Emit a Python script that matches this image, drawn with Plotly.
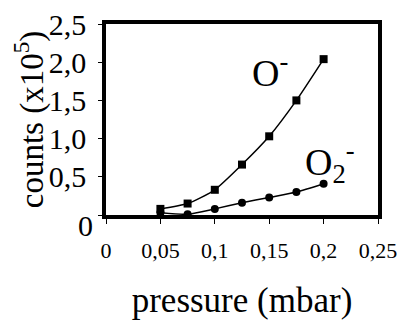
import plotly.graph_objects as go

pressure = [0.05, 0.075, 0.1, 0.125, 0.15, 0.175, 0.2]
o_minus = [0.08, 0.15, 0.33, 0.66, 1.03, 1.50, 2.04]
o2_minus = [0.03, 0.01, 0.08, 0.16, 0.23, 0.30, 0.41]

x_ticks = [0, 0.05, 0.1, 0.15, 0.2, 0.25]
x_ticktext = ["0", "0,05", "0,1", "0,15", "0,2", "0,25"]
y_ticks = [0, 0.5, 1.0, 1.5, 2.0, 2.5]
y_ticktext = ["", "0,5", "1,0", "1,5", "2,0", "2,5"]

FONT = "Liberation Serif"

fig = go.Figure()
fig.add_trace(go.Scatter(x=pressure, y=o_minus, mode="lines+markers",
                         line=dict(color="black", width=1.5, shape="spline", smoothing=0.6),
                         marker=dict(symbol="square", size=8, color="black"),
                         showlegend=False, cliponaxis=False))
fig.add_trace(go.Scatter(x=pressure, y=o2_minus, mode="lines+markers",
                         line=dict(color="black", width=1.5, shape="spline", smoothing=0.6),
                         marker=dict(symbol="circle", size=8, color="black"),
                         showlegend=False, cliponaxis=False))

fig.add_annotation(x=0.151, y=1.90, text="O<sup>-</sup>", showarrow=False,
                   font=dict(family=FONT, size=38, color="black"))
fig.add_annotation(x=0.206, y=0.69, text="O<sub>2</sub><sup>-</sup>", showarrow=False,
                   font=dict(family=FONT, size=38, color="black"))
# zero label of the y axis sits slightly below the axis in the original
fig.add_annotation(x=0, y=0, xref="paper", yref="y", text="0", showarrow=False,
                   xanchor="right", xshift=-11, yshift=-10,
                   font=dict(family=FONT, size=30, color="black"))

# the page body adds an 8px margin, so the figure is sized to fit the window
fig.update_layout(
    width=398, height=314,
    margin=dict(l=98, r=28, t=16, b=107),
    paper_bgcolor="white", plot_bgcolor="white",
    font=dict(family=FONT, color="black"),
    xaxis=dict(range=[0, 0.25], tickvals=x_ticks, ticktext=x_ticktext, tickangle=0,
               showgrid=False, zeroline=False, showline=True, linecolor="black", linewidth=3.5,
               mirror=True, ticks="outside", ticklen=5, tickwidth=1, tickcolor="black",
               tickfont=dict(family=FONT, size=22), ticklabelstandoff=8,
               ticklabeloverflow="allow",
               title=dict(text="pressure (mbar)", font=dict(family=FONT, size=35), standoff=26),
               automargin=False),
    yaxis=dict(range=[0, 2.5], tickvals=y_ticks, ticktext=y_ticktext,
               showgrid=False, zeroline=False, showline=True, linecolor="black", linewidth=3.5,
               mirror=True, ticks="outside", ticklen=4, tickwidth=1, tickcolor="black",
               tickfont=dict(family=FONT, size=30), ticklabelstandoff=6,
               ticklabeloverflow="allow",
               title=dict(text="counts (x10<sup>5</sup>)", font=dict(family=FONT, size=33), standoff=3),
               automargin=False),
)

fig.write_html("out.html")
